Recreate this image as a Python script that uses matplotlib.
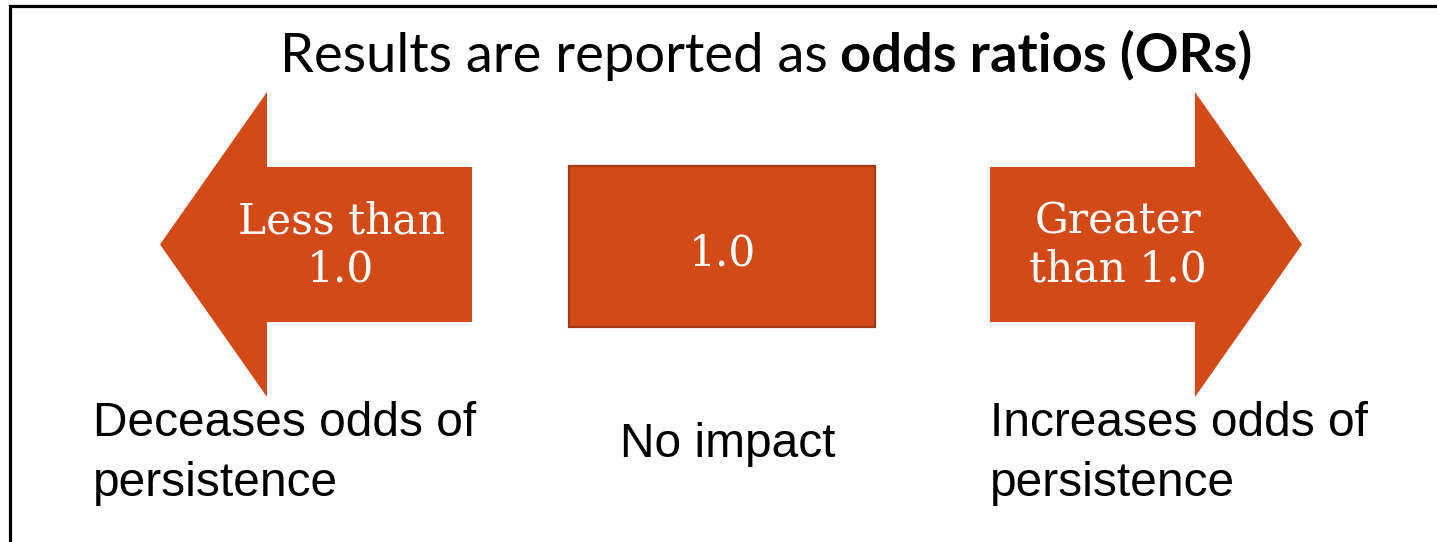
import matplotlib
matplotlib.use("Agg")
import matplotlib.pyplot as plt
from matplotlib.patches import Polygon, Rectangle

# text content
title_plain = "Results are reported as"
title_bold = "odds ratios (ORs)"
shape_labels = [["Less than", "1.0"], ["1.0"], ["Greater", "than 1.0"]]
caption_labels = [["Deceases odds of", "persistence"], ["No impact"], ["Increases odds of", "persistence"]]

FILL = "#D24A18"
EDGE = "#A53A12"
W, H = 1437, 542

fig = plt.figure(figsize=(W / 100, H / 100), dpi=100)
ax = fig.add_axes([0, 0, 1, 1])
ax.set_xlim(0, W)
ax.set_ylim(H, 0)  # pixel-like coordinates, origin top-left
ax.set_axis_off()

# frame (only top and left edge fall inside the picture)
ax.plot([10, 10, W + 5], [H + 5, 6, 6], color="black", lw=2.3, solid_joinstyle="miter")


def block_arrow(x_tail, x_base, x_tip, yc, shaft_half, head_half):
    pts = [(x_tail, yc - shaft_half), (x_base, yc - shaft_half), (x_base, yc - head_half),
           (x_tip, yc), (x_base, yc + head_half), (x_base, yc + shaft_half),
           (x_tail, yc + shaft_half)]
    return Polygon(pts, closed=True, facecolor=FILL, edgecolor="none")


ax.add_patch(block_arrow(472, 267, 160, 244.5, 77.5, 152.5))
ax.add_patch(block_arrow(990, 1195, 1302, 244.5, 77.5, 152.5))
ax.add_patch(Rectangle((569, 166), 306, 161, facecolor=FILL, edgecolor=EDGE, lw=1.6))

# serif labels inside shapes
serif = dict(family="DejaVu Serif", color="white", fontsize=30.5, ha="center", va="baseline")
centers = [(341, 233), (723, 265), (1118, 233)]
for (cx, by), lines in zip(centers, shape_labels):
    for i, line in enumerate(lines):
        ax.text(cx, by + i * 49, line, **serif)

# captions below
sans = dict(family="Liberation Sans", color="black", fontsize=34.5, va="baseline")
for i, line in enumerate(caption_labels[0]):
    ax.text(93, 436 + i * 60, line, ha="left", **sans)
ax.text(728, 457, caption_labels[1][0], ha="center", **sans)
for i, line in enumerate(caption_labels[2]):
    ax.text(990, 436 + i * 60, line, ha="left", **sans)

# title: plain + bold run, fitted to the original width
renderer = fig.canvas.get_renderer()
fs = 40
t1 = ax.text(0, 72, title_plain, family="Lato", fontsize=fs, va="baseline", ha="left")
t2 = ax.text(0, 72, title_bold, family="Lato", fontweight="bold", fontsize=fs,
             va="baseline", ha="left")
w1 = t1.get_window_extent(renderer).width
w2 = t2.get_window_extent(renderer).width
gap = 0.23 * fs / 0.72
fs = fs * 972 / (w1 + w2 + gap)
t1.set_fontsize(fs)
t2.set_fontsize(fs)
w1 = t1.get_window_extent(renderer).width
gap = 0.23 * fs / 0.72
t1.set_x(280)
t2.set_x(280 + w1 + gap)

fig.savefig("out.png", dpi=100, facecolor="white")
